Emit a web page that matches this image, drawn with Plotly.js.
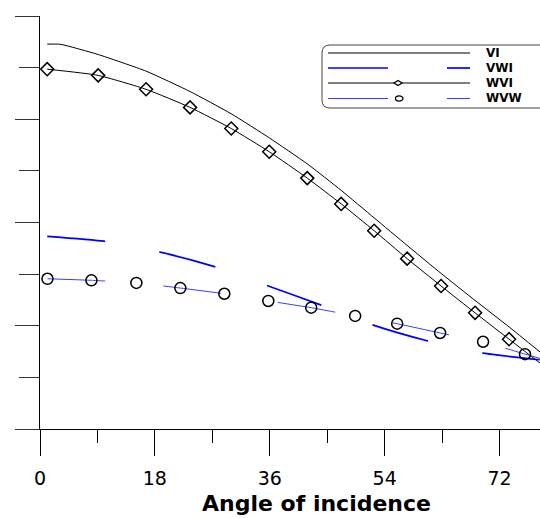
<!DOCTYPE html>
<html>
<head>
<meta charset="utf-8">
<script src="https://cdn.plot.ly/plotly-3.0.1.min.js"></script>
<style>html,body{margin:0;padding:0;background:#fff;}#chart{width:540px;height:518px;}</style>
</head>
<body>
<div id="chart"></div>
<script>
// ---- data (angle of incidence in degrees, unitless amplitude) ----
const seriesNames = ["VI", "VWI", "WVI", "WVW"];

const angleVI = [1.13, 3.2, 9.11, 16.62, 23.51, 29.97, 35.92, 41.87, 47.19, 52.36, 57.52, 62.84, 68.17, 73.49, 78.34];
const valueVI = [0.7455, 0.7452, 0.7254, 0.6932, 0.6537, 0.6105, 0.5640, 0.5136, 0.4622, 0.4089, 0.3556, 0.3014, 0.2490, 0.1977, 0.1492];

const angleVWI = [1.13, 10.41, 19.02, 27.78, 35.77, 44.07, 52.04, 60.65, 69.42, 78.34];
const valueVWI = [0.373, 0.363, 0.342, 0.313, 0.277, 0.240, 0.202, 0.171, 0.147, 0.134];

const angleWVI = [1.13, 9.11, 16.62, 23.51, 29.97, 35.92, 41.87, 47.19, 52.36, 57.52, 62.84, 68.17, 73.49, 80.0];
const valueWVI = [0.697, 0.685, 0.658, 0.623, 0.582, 0.537, 0.486, 0.436, 0.384, 0.330, 0.277, 0.225, 0.174, 0.112];

const angleWVW = [1.17, 8.06, 15.10, 21.99, 28.88, 35.77, 42.49, 49.38, 55.96, 62.69, 69.42, 75.99, 82.8];
const valueWVW = [0.291, 0.288, 0.283, 0.273, 0.262, 0.248, 0.235, 0.219, 0.204, 0.186, 0.169, 0.145, 0.121];

const xTickVals = [0, 18, 36, 54, 72];
const xTickText = ["0", "18", "36", "54", "72"];
const xTitle = "Angle of incidence";

// ---- layout helpers (pixel -> paper fraction of the plot area) ----
const L = 40, R = 540, T = 16, B = 429;
const fx = p => (p - L) / (R - L);
const fy = p => (B - p) / (B - T);

const traces = [
  {x: angleVI, y: valueVI, name: seriesNames[0], mode: "lines",
   line: {color: "#000", width: 1, shape: "spline", smoothing: 0.5}},
  {x: angleVWI, y: valueVWI, name: seriesNames[1], mode: "lines",
   line: {color: "#0000ff", width: 1.7, dash: "58px,55px", shape: "spline", smoothing: 0.5}},
  {x: angleWVI, y: valueWVI, name: seriesNames[2], mode: "lines+markers",
   line: {color: "#000", width: 1, shape: "spline", smoothing: 0.5},
   marker: {symbol: "diamond-open", size: 10, color: "#000", line: {width: 1.5, color: "#000"}}},
  {x: angleWVW, y: valueWVW, name: seriesNames[3], mode: "lines+markers",
   line: {color: "#3b3bff", width: 1, dash: "58px,58px", shape: "spline", smoothing: 0.5},
   marker: {symbol: "circle-open", size: 11, color: "#000", line: {width: 1.5, color: "#000"}}}
];

// custom legend box (rounded) + samples
const bx0 = 322, bx1 = 575, by0 = 45, by1 = 108, r = 8;
const boxPath = `M ${fx(bx0 + r)},${fy(by0)} L ${fx(bx1)},${fy(by0)} L ${fx(bx1)},${fy(by1)} L ${fx(bx0 + r)},${fy(by1)} ` +
  `Q ${fx(bx0)},${fy(by1)} ${fx(bx0)},${fy(by1 - r)} L ${fx(bx0)},${fy(by0 + r)} Q ${fx(bx0)},${fy(by0)} ${fx(bx0 + r)},${fy(by0)} Z`;

const rows = [53, 68, 83, 98.5];
const shapes = [
  {type: "path", xref: "paper", yref: "paper", path: boxPath, line: {color: "#444", width: 1}, fillcolor: "#fff", layer: "above"},
  {type: "line", xref: "paper", yref: "paper", x0: fx(328), x1: fx(470), y0: fy(rows[0]), y1: fy(rows[0]), line: {color: "#000", width: 1}},
  {type: "line", xref: "paper", yref: "paper", x0: fx(328), x1: fx(388), y0: fy(rows[1]), y1: fy(rows[1]), line: {color: "#0000ff", width: 1.7}},
  {type: "line", xref: "paper", yref: "paper", x0: fx(447), x1: fx(470), y0: fy(rows[1]), y1: fy(rows[1]), line: {color: "#0000ff", width: 1.7}},
  {type: "line", xref: "paper", yref: "paper", x0: fx(328), x1: fx(470), y0: fy(rows[2]), y1: fy(rows[2]), line: {color: "#000", width: 1}},
  {type: "path", xref: "paper", yref: "paper",
   path: `M ${fx(394)},${fy(rows[2])} L ${fx(398)},${fy(rows[2] - 2.5)} L ${fx(402)},${fy(rows[2])} L ${fx(398)},${fy(rows[2] + 2.5)} Z`,
   line: {color: "#000", width: 1.3}, fillcolor: "#fff"},
  {type: "line", xref: "paper", yref: "paper", x0: fx(328), x1: fx(388), y0: fy(rows[3]), y1: fy(rows[3]), line: {color: "#3b3bff", width: 1}},
  {type: "line", xref: "paper", yref: "paper", x0: fx(447), x1: fx(470), y0: fy(rows[3]), y1: fy(rows[3]), line: {color: "#3b3bff", width: 1}},
  {type: "circle", xref: "paper", yref: "paper", x0: fx(395.5), x1: fx(403), y0: fy(rows[3] - 2.6), y1: fy(rows[3] + 2.6),
   line: {color: "#000", width: 1.3}, fillcolor: "#fff"}
];

const annotations = seriesNames.map((n, i) => ({
  xref: "paper", yref: "paper", x: fx(485), y: fy(rows[i]), xanchor: "left", yanchor: "middle",
  text: n, showarrow: false, borderpad: 0,
  font: {family: "DejaVu Sans", size: 12, color: "#000", weight: "bold"}
}));
annotations.push({
  xref: "paper", yref: "paper", x: fx(316), y: fy(504), xanchor: "center", yanchor: "middle",
  text: xTitle, showarrow: false, borderpad: 0,
  font: {family: "DejaVu Sans", size: 22, color: "#000", weight: "bold"}
});

const layout = {
  width: 540, height: 518,
  margin: {l: L, r: 540 - R, t: T, b: 518 - B, pad: 0},
  paper_bgcolor: "#fff", plot_bgcolor: "#fff",
  showlegend: false,
  xaxis: {
    range: [0, 78.34], showgrid: false, zeroline: false,
    showline: true, linecolor: "#000", linewidth: 1,
    ticks: "outside", ticklen: 26, tickwidth: 1, tickcolor: "#000",
    tickvals: xTickVals, ticktext: xTickText, ticklabelstandoff: 6,
    tickfont: {family: "DejaVu Sans", size: 19, color: "#000"},
    minor: {dtick: 9, tick0: 0, ticklen: 13, tickwidth: 1, tickcolor: "#000", ticks: "outside", showgrid: false}
  },
  yaxis: {
    range: [0, 0.8], showgrid: false, zeroline: false,
    showline: true, linecolor: "#000", linewidth: 1,
    ticks: "outside", ticklen: 24, tickwidth: 1, tickcolor: "#333",
    dtick: 0.2, tick0: 0, showticklabels: false,
    minor: {dtick: 0.1, tick0: 0, ticklen: 20, tickwidth: 1, tickcolor: "#333", ticks: "outside", showgrid: false}
  },
  shapes: shapes,
  annotations: annotations
};

Plotly.newPlot("chart", traces, layout, {staticPlot: true, displayModeBar: false});
</script>
</body>
</html>
